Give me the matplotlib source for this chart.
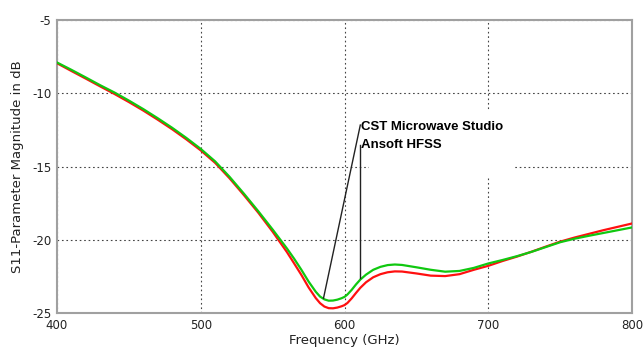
import matplotlib.pyplot as plt
from matplotlib.patches import Rectangle

plt.rcParams["axes.unicode_minus"] = False

# frequency points (GHz)
freq = [400, 410, 420, 430, 440, 450, 460, 470, 480, 490, 500, 510, 520, 530,
        540, 550, 560, 565, 570, 575, 580, 583, 586, 589, 592, 595, 598, 600,
        602, 605, 608, 611, 615, 620, 625, 630, 635, 640, 650, 660, 670, 680,
        690, 700, 710, 720, 730, 740, 750, 760, 770, 780, 790, 800]

# CST Microwave Studio (green)
s11_cst = [-7.90, -8.40, -8.92, -9.45, -9.95, -10.50, -11.08, -11.70, -12.35,
           -13.05, -13.80, -14.65, -15.70, -16.85, -18.05, -19.30, -20.60,
           -21.30, -22.05, -22.85, -23.55, -23.88, -24.07, -24.16, -24.15,
           -24.09, -23.99, -23.90, -23.74, -23.42, -23.05, -22.72, -22.38,
           -22.05, -21.85, -21.73, -21.69, -21.72, -21.88, -22.05, -22.18,
           -22.13, -21.92, -21.62, -21.38, -21.12, -20.83, -20.50, -20.17,
           -19.93, -19.73, -19.54, -19.35, -19.16]

# Ansoft HFSS (red)
s11_hfss = [-7.95, -8.48, -9.00, -9.53, -10.05, -10.60, -11.18, -11.80, -12.45,
            -13.15, -13.90, -14.75, -15.80, -16.95, -18.15, -19.45, -20.85,
            -21.62, -22.40, -23.25, -23.98, -24.33, -24.56, -24.67, -24.68,
            -24.63, -24.54, -24.46, -24.32, -24.00, -23.63, -23.28, -22.90,
            -22.56, -22.35, -22.22, -22.16, -22.17, -22.30, -22.45, -22.48,
            -22.35, -22.05, -21.78, -21.45, -21.15, -20.82, -20.47, -20.13,
            -19.85, -19.60, -19.35, -19.12, -18.89]

x_ticks = [400, 500, 600, 700, 800]
y_ticks = [-25, -20, -15, -10, -5]

fig = plt.figure(figsize=(6.44, 3.56), dpi=100)
ax = fig.add_axes([57 / 644, 1 - 313 / 356, 575 / 644, 293 / 356])

ax.plot(freq, s11_hfss, color="#ff1010", lw=1.6, zorder=3)
ax.plot(freq, s11_cst, color="#10c810", lw=1.6, zorder=4)

ax.set_xlim(400, 800)
ax.set_ylim(-25, -5)
ax.set_xticks(x_ticks)
ax.set_yticks(y_ticks)
ax.tick_params(length=0, labelsize=8.5, colors="#222222", pad=4)
ax.grid(True, color="#444444", linestyle=(0, (1.5, 2.5)), lw=0.8, zorder=1)
for sp in ax.spines.values():
    sp.set_color("#a0a0a0")
    sp.set_linewidth(1.5)

ax.set_xlabel("Frequency (GHz)", fontsize=9.5, color="#222222", labelpad=2)
ax.set_ylabel("S11-Parameter Magnitude in dB", fontsize=9.5, color="#222222", labelpad=6)

# white label box hiding the grid behind the annotation
ax.add_patch(Rectangle((617, -15.72), 100, 4.57, facecolor="white",
                       edgecolor="none", zorder=2))

# leader lines
ax.plot([611, 585.4], [-12.17, -23.99], color="#222222", lw=1.0, zorder=5)
ax.plot([611, 611], [-13.54, -22.6], color="#222222", lw=1.0, zorder=5)

ax.text(611.5, -12.3, "CST Microwave Studio", fontsize=9.5, fontweight="bold",
        family="Liberation Sans", va="center", ha="left", zorder=6)
ax.text(611.5, -13.5, "Ansoft HFSS", fontsize=9.5, fontweight="bold",
        family="Liberation Sans", va="center", ha="left", zorder=6)

fig.savefig("out.png", dpi=100)
